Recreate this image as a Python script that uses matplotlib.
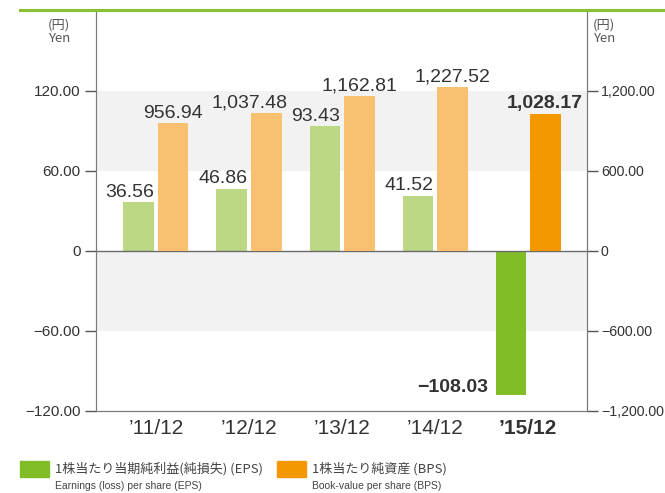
import matplotlib
matplotlib.use("Agg")
import matplotlib.pyplot as plt
from matplotlib.lines import Line2D
from matplotlib.patches import Rectangle
import numpy as np

plt.rcParams['font.family'] = ['Liberation Sans', 'Noto Sans CJK JP', 'DejaVu Sans']

categories = ["\u201911/12", "\u201912/12", "\u201913/12", "\u201914/12", "\u201915/12"]
eps = [36.56, 46.86, 93.43, 41.52, -108.03]
bps = [956.94, 1037.48, 1162.81, 1227.52, 1028.17]
eps_labels = ["36.56", "46.86", "93.43", "41.52", "\u2212108.03"]
bps_labels = ["956.94", "1,037.48", "1,162.81", "1,227.52", "1,028.17"]
left_ticks = [-120, -60, 0, 60, 120]
left_ticklabels = ["\u2212120.00", "\u221260.00", "0", "60.00", "120.00"]
right_ticks = [-1200, -600, 0, 600, 1200]
right_ticklabels = ["\u22121,200.00", "\u2212600.00", "0", "600.00", "1,200.00"]
bands = [(60, 120), (-60, 0)]

legend_jp = ["1株当たり当期純利益(純損失) (EPS)", "1株当たり純資産 (BPS)"]
legend_en = ["Earnings (loss) per share (EPS)", "Book-value per share (BPS)"]

c_eps_light, c_eps = "#bdd884", "#80bd27"
c_bps_light, c_bps = "#f8c06f", "#f39800"
txt = "#333333"
axis_c = "#7a7a7a"

fig = plt.figure(figsize=(6.65, 4.93), dpi=100)
ax = fig.add_axes([96/665, 1-411/493, (587-96)/665, (411-10)/493])
ax2 = ax.twinx()

x = np.arange(len(categories))
w = 0.333
off = 0.183
n = len(categories)
eps_colors = [c_eps_light]*(n-1) + [c_eps]
bps_colors = [c_bps_light]*(n-1) + [c_bps]

ax.set_xlim(-0.645, 4.634)
ax.set_ylim(-120, 180.75)
ax2.set_ylim(-1200, 1807.5)

for lo, hi in bands:
    ax.axhspan(lo, hi, color="#f2f2f2", zorder=0, lw=0)

ax.bar(x - off, eps, width=w, color=eps_colors, zorder=2)
ax2.bar(x + off, bps, width=w, color=bps_colors, zorder=2)
ax.axhline(0, color="#6b6b6b", lw=1, zorder=3)

# value labels
for i, (v, lab) in enumerate(zip(eps, eps_labels)):
    bold = (i == n-1)
    if v >= 0:
        ax.annotate(lab, (x[i] - off + w/2, v), xytext=(0, 4), textcoords="offset points",
                    ha="right", va="baseline", fontsize=14, color=txt,
                    fontweight="bold" if bold else "normal", zorder=5)
    else:
        ax.annotate(lab, (x[i] - off - w/2, v), xytext=(-5, 2), textcoords="offset points",
                    ha="right", va="baseline", fontsize=14, color=txt,
                    fontweight="bold" if bold else "normal", zorder=5)
for i, (v, lab) in enumerate(zip(bps, bps_labels)):
    bold = (i == n-1)
    dx = -12 if i == 1 else 0
    ax2.annotate(lab, (x[i] + off, v), xytext=(dx, 4), textcoords="offset points",
                 ha="center", va="baseline", fontsize=14, color=txt,
                 fontweight="bold" if bold else "normal", zorder=5)

# axes styling
for a in (ax, ax2):
    a.spines["top"].set_visible(False)
    a.spines["left"].set_color(axis_c)
    a.spines["right"].set_color(axis_c)
    a.spines["bottom"].set_color(axis_c)
ax2.patch.set_visible(False)

ax.set_yticks(left_ticks)
ax.set_yticklabels(left_ticklabels)
ax2.set_yticks(right_ticks)
ax2.set_yticklabels(right_ticklabels)
ax.tick_params(axis="y", direction="out", length=8, width=1, color="#555555",
               labelsize=11, labelcolor=txt, pad=3)
ax2.tick_params(axis="y", direction="out", length=8, width=1, color="#555555",
                labelsize=10.2, labelcolor=txt, pad=2)
ax.set_xticks(x)
ax.set_xticklabels(categories)
ax.tick_params(axis="x", length=0, labelsize=15, labelcolor=txt, pad=6)
ax.get_xticklabels()[-1].set_fontweight("bold")

# unit labels
fig.text(70/665, 1-19/493, "(円)\nYen", ha="right", va="top", fontsize=9.5,
         color="#555555", linespacing=1.05, family=['Noto Sans CJK JP', 'DejaVu Sans'])
fig.text(593/665, 1-19/493, "(円)\nYen", ha="left", va="top", fontsize=9.5,
         color="#555555", linespacing=1.05, family=['Noto Sans CJK JP', 'DejaVu Sans'])

# top green line
fig.add_artist(Line2D([20/665, 1.0], [1-10/493, 1-10/493], color="#86c232", lw=2.2))

# legend
leg_items = [(20, c_eps), (277, c_bps)]
for (lx, col), jp, en in zip(leg_items, legend_jp, legend_en):
    fig.add_artist(Rectangle((lx/665, 1-477/493), 29/665, 16/493, color=col,
                             transform=fig.transFigure))
    fig.text((lx+35)/665, 1-469/493, jp, ha="left", va="center", fontsize=9.4,
             color="#444444", family=['Noto Sans CJK JP', 'DejaVu Sans'])
    fig.text((lx+35)/665, 1-486/493, en, ha="left", va="center", fontsize=7.5,
             color="#444444", family=['Liberation Sans Narrow', 'Liberation Sans'])

fig.savefig("out.png", dpi=100)
